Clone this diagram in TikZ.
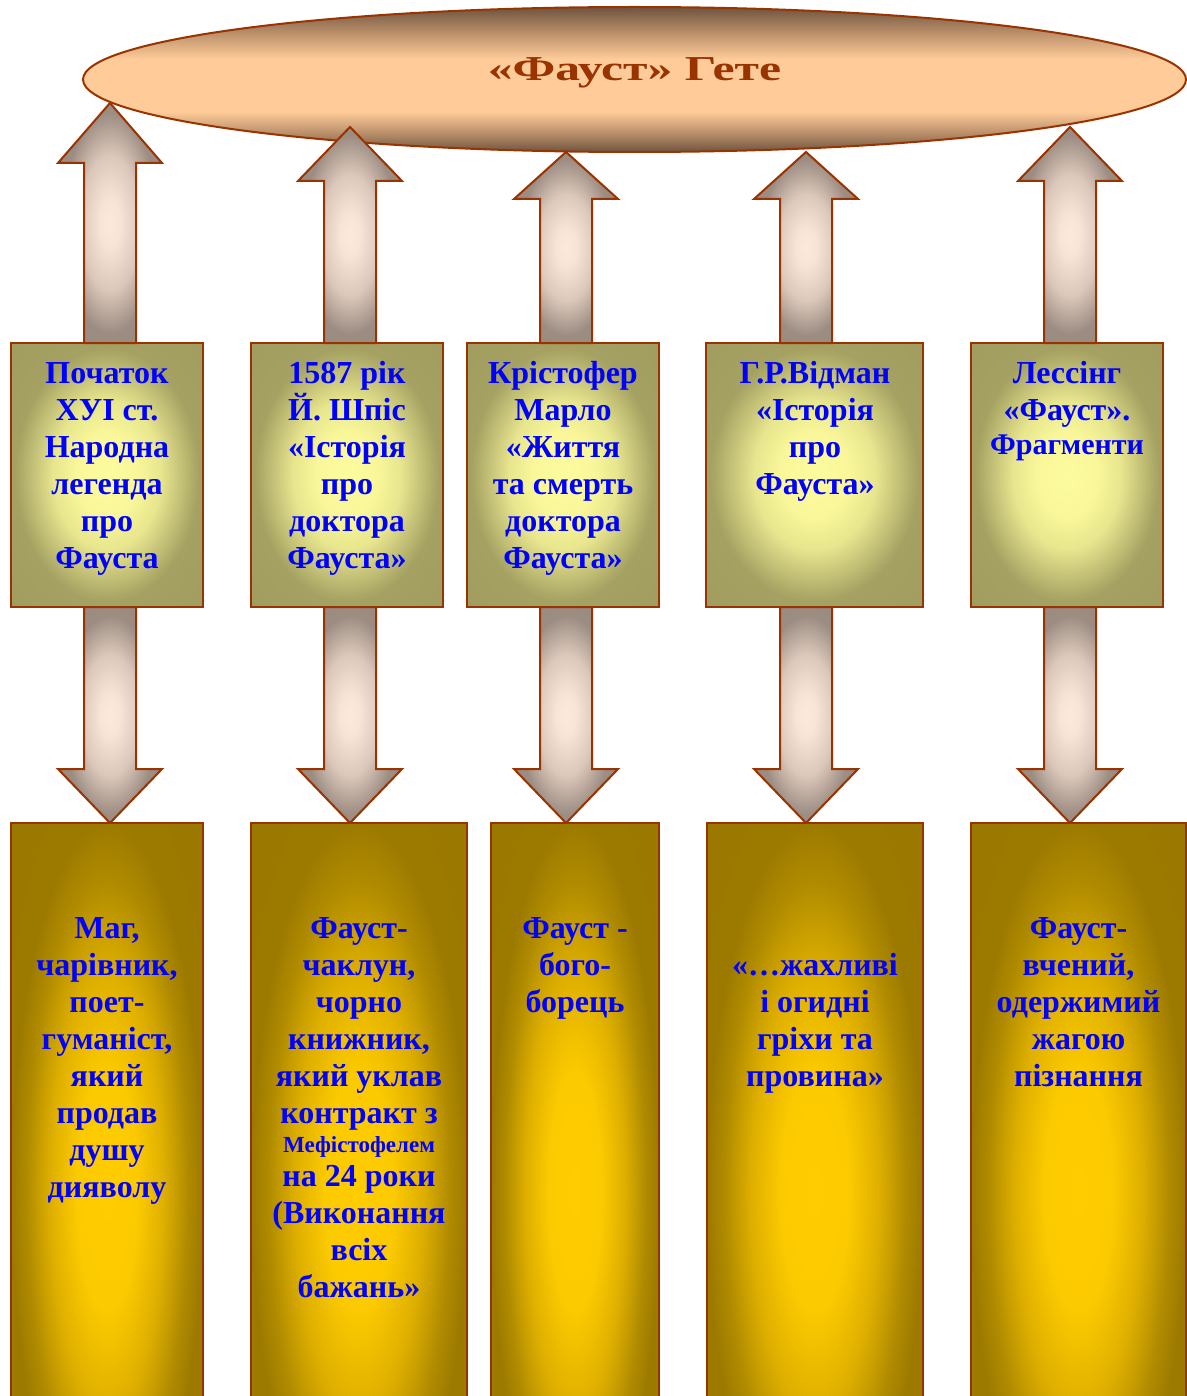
\documentclass[tikz,border=0pt]{standalone}
\usepackage{fontspec}
\setmainfont{Liberation Serif}
\usepackage{graphicx}
\usetikzlibrary{shapes.geometric}

\definecolor{brd}{HTML}{993300}
\definecolor{tblue}{HTML}{0000FF}
\definecolor{olY}{HTML}{FCFB9E}
\definecolor{olY2}{HTML}{F9F799}
\definecolor{olL}{HTML}{E8E68E}
\definecolor{olM}{HTML}{C6C379}
\definecolor{olD}{HTML}{A4A162}
\definecolor{olE}{HTML}{9B985A}
\definecolor{gdY}{HTML}{FFCC00}
\definecolor{gdY2}{HTML}{FCCA00}
\definecolor{gdM}{HTML}{DDAE00}
\definecolor{gdD}{HTML}{B08B00}
\definecolor{gdD2}{HTML}{9C7A00}
\definecolor{gdE}{HTML}{987700}
\definecolor{arP}{HTML}{FBE9DD}
\definecolor{arP2}{HTML}{F8E4D6}
\definecolor{arM}{HTML}{DCC8BA}
\definecolor{arD}{HTML}{9C8C82}
\definecolor{arE}{HTML}{958880}
\definecolor{elD}{HTML}{6E5440}
\definecolor{elM}{HTML}{B48A66}
\definecolor{elP}{HTML}{FFCC99}

\pgfdeclareradialshading{oliveshade}{\pgfpoint{0bp}{0bp}}{color(0bp)=(olY); color(8bp)=(olY2); color(14bp)=(olL); color(19bp)=(olM); color(24bp)=(olD); color(50bp)=(olE)}
\pgfdeclareradialshading{goldshade}{\pgfpoint{0bp}{0bp}}{color(0bp)=(gdY); color(8bp)=(gdY2); color(15bp)=(gdM); color(21bp)=(gdD); color(25bp)=(gdD2); color(50bp)=(gdE)}
\pgfdeclareradialshading{arrowshade}{\pgfpoint{0bp}{0bp}}{color(0bp)=(arP); color(5bp)=(arP2); color(14bp)=(arM); color(23bp)=(arD); color(50bp)=(arE)}
\pgfdeclareverticalshading{ellshade}{100bp}{color(0bp)=(elD); color(25bp)=(elD); color(31bp)=(elM); color(39bp)=(elP); color(57bp)=(elP); color(67bp)=(elM); color(75bp)=(elD); color(100bp)=(elD)}

\newcommand\topstrut{\rule{0pt}{16pt}}
\newcommand\blockup[4]{\path[blockarrow, shift={(#1.north -| #2)}] (-26,0) -- (-26,#3) -- (-52,#3) -- (0,#4) -- (52,#3) -- (26,#3) -- (26,0) -- cycle;}
\newcommand\blockdown[2]{\path[blockarrow, shift={(#1.south -| #2)}] (-26,0) -- (-26,162) -- (-52,162) -- (0,216) -- (52,162) -- (26,162) -- (26,0) -- cycle;}

\begin{document}
\begin{tikzpicture}[x=0.5pt,y=-0.5pt,
  box/.style={draw=brd, line width=1pt, inner sep=0pt, outer sep=0pt, rectangle},
  topbox/.style={box, shade, shading=oliveshade, minimum height=132pt},
  botbox/.style={box, shade, shading=goldshade, minimum height=368.5pt},
  txt/.style={text=tblue, font=\bfseries\fontsize{16}{18.5}\selectfont, align=center, inner sep=0pt, anchor=north},
  blockarrow/.style={draw=brd, line width=1pt, shade, shading=arrowshade, line join=miter}]
\useasboundingbox (0,0) rectangle (1187,1396);
\clip (0,0) rectangle (1187,1396);

% title ellipse
\node[ellipse, draw=brd, line width=1pt, shade, shading=ellshade, minimum width=551.5pt, minimum height=72.5pt, inner sep=0pt] (goethe) at (634.5,79.5) {};
\node[anchor=base, text=brd, font=\bfseries\fontsize{17.5}{20}\selectfont, inner sep=0pt] (title) at (634.5,81) {\scalebox{1.42}[1]{«Фауст» Гете}};

% arrow axes
\coordinate (a1) at (110,0);
\coordinate (a2) at (350,0);
\coordinate (a3) at (566,0);
\coordinate (a4) at (806,0);
\coordinate (a5) at (1070,0);

% top boxes
\node[topbox, minimum width=96pt] (t1) at (107,475) {};
\node[topbox, minimum width=96pt] (t2) at (347,475) {};
\node[topbox, minimum width=96pt] (t3) at (563,475) {};
\node[topbox, minimum width=108.5pt] (t4) at (814.5,475) {};
\node[topbox, minimum width=96pt] (t5) at (1067,475) {};

% bottom boxes
\node[botbox, minimum width=96pt] (b1) at (107,1191.5) {};
\node[botbox, minimum width=108pt] (b2) at (359,1191.5) {};
\node[botbox, minimum width=84pt] (b3) at (575,1191.5) {};
\node[botbox, minimum width=108pt] (b4) at (815,1191.5) {};
\node[botbox, minimum width=107.5pt] (b5) at (1078.5,1191.5) {};

% arrows up to the title
\blockup{t1}{a1}{-180}{-240}
\blockup{t2}{a2}{-162}{-216}
\blockup{t3}{a3}{-144}{-191}
\blockup{t4}{a4}{-144}{-191}
\blockup{t5}{a5}{-162}{-216}

% arrows down
\blockdown{t1}{a1}
\blockdown{t2}{a2}
\blockdown{t3}{a3}
\blockdown{t4}{a4}
\blockdown{t5}{a5}

% top texts
\node[txt] (tt1) at (107,351) {\topstrut Початок\\ХУІ ст.\\Народна\\легенда\\про\\Фауста};
\node[txt] (tt2) at (347,351) {\topstrut 1587 рік\\Й. Шпіс\\«Історія\\про\\доктора\\Фауста»};
\node[txt] (tt3) at (563,351) {\topstrut Крістофер\\Марло\\«Життя\\та смерть\\доктора\\Фауста»};
\node[txt] (tt4) at (815,351) {\topstrut Г.Р.Відман\\«Історія\\про\\Фауста»};
\node[txt] (tt5) at (1067,351) {\topstrut Лессінг\\«Фауст».\\[-1.5pt]{\fontsize{15}{18.5}\selectfont Фрагменти}};

% bottom texts
\node[txt] (bt1) at (107,906) {\topstrut Маг,\\чарівник,\\поет-\\гуманіст,\\який\\продав\\душу\\дияволу};
\node[txt] (bt2) at (359,906) {\topstrut Фауст-\\чаклун,\\чорно\\книжник,\\який уклав\\контракт з\\[-4pt]{\fontsize{11.5}{18.5}\selectfont Мефістофелем}\\[-1.5pt]на 24 роки\\(Виконання\\всіх\\бажань»};
\node[txt] (bt3) at (575,906) {\topstrut Фауст -\\бого-\\борець};
\node[txt] (bt4) at (815,943) {\topstrut «…жахливі\\і огидні\\гріхи та\\провина»};
\node[txt] (bt5) at (1078.5,906) {\topstrut Фауст-\\вчений,\\одержимий\\жагою\\пізнання};
\end{tikzpicture}
\end{document}
